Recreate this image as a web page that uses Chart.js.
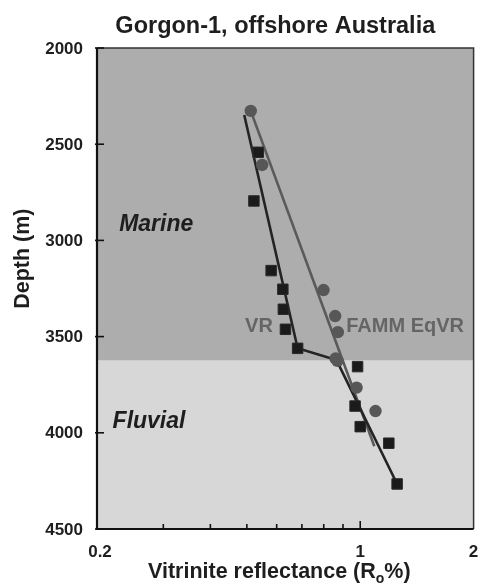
<!DOCTYPE html>
<html>
<head>
<meta charset="utf-8">
<title>Gorgon-1</title>
<script src="https://cdn.jsdelivr.net/npm/chart.js@4"></script>
<style>
  html, body { margin: 0; padding: 0; background: #fff; }
  #wrap { width: 482px; height: 583px; }
</style>
</head>
<body>
<div id="wrap"><canvas id="grafico" width="482" height="583"></canvas></div>
<script>
// VR measurements (squares)
const vrRo    = [0.536, 0.522, 0.580, 0.623, 0.625, 0.633, 0.682, 0.984, 0.969, 1.000, 1.191, 1.253];
const vrDepth = [2542, 2795, 3157, 3254, 3358, 3462, 3561, 3656, 3861, 3968, 4054, 4266];

// FAMM equivalent VR (circles)
const fammRo    = [0.512, 0.549, 0.799, 0.858, 0.872, 0.860, 0.870, 0.978, 1.098];
const fammDepth = [2327, 2608, 3258, 3393, 3477, 3614, 3626, 3765, 3887];

// trend lines
const vrTrendRo      = [0.492, 0.682, 0.865, 1.253];
const vrTrendDepth   = [2348, 3561, 3622, 4266];
const fammTrendRo    = [0.512, 1.09];
const fammTrendDepth = [2327, 4070];

// axes
const depthTicks = [2000, 2500, 3000, 3500, 4000, 4500];
const roLabels   = [0.2, 1, 2];
const roMinor    = [0.3, 0.4, 0.5, 0.6, 0.7, 0.8, 0.9];
const marineBase = 3625;   // top of the fluvial section

const FONT = '"Liberation Sans", Arial, Helvetica, sans-serif';

const pares = (xs, ys) => xs.map((x, i) => ({ x: x, y: ys[i] }));

const fondo = {
    id: 'fondo',
    beforeDatasetsDraw(chart) {
        const { ctx, chartArea: a, scales: { y } } = chart;
        const yb = y.getPixelForValue(marineBase);
        ctx.save();
        ctx.fillStyle = '#adadad';
        ctx.fillRect(a.left, a.top, a.right - a.left, yb - a.top);
        ctx.fillStyle = '#d7d7d7';
        ctx.fillRect(a.left, yb, a.right - a.left, a.bottom - yb);
        ctx.restore();
    }
};

const ejes = {
    id: 'ejes',
    afterDatasetsDraw(chart) {
        const { ctx, chartArea: a, scales: { x, y } } = chart;
        ctx.save();

        // frame
        ctx.strokeStyle = '#333';
        ctx.lineWidth = 1.5;
        ctx.beginPath();
        ctx.moveTo(a.left, a.top);
        ctx.lineTo(a.right, a.top);
        ctx.lineTo(a.right, a.bottom);
        ctx.stroke();
        ctx.strokeStyle = '#111';
        ctx.lineWidth = 2.2;
        ctx.beginPath();
        ctx.moveTo(a.left, a.top);
        ctx.lineTo(a.left, a.bottom);
        ctx.lineTo(a.right, a.bottom);
        ctx.stroke();

        // ticks point inward
        ctx.lineWidth = 1.6;
        depthTicks.forEach(d => {
            const py = y.getPixelForValue(d);
            ctx.beginPath();
            ctx.moveTo(a.left - 2, py);
            ctx.lineTo(a.left + 7, py);
            ctx.stroke();
        });
        roMinor.forEach(r => {
            const px = x.getPixelForValue(r);
            ctx.beginPath();
            ctx.moveTo(px, a.bottom);
            ctx.lineTo(px, a.bottom - 5);
            ctx.stroke();
        });
        const p1 = x.getPixelForValue(1);
        ctx.beginPath();
        ctx.moveTo(p1, a.bottom);
        ctx.lineTo(p1, a.bottom - 8);
        ctx.stroke();

        // tick labels
        ctx.fillStyle = '#1e1e1e';
        ctx.font = 'bold 17px ' + FONT;
        ctx.textAlign = 'right';
        ctx.textBaseline = 'middle';
        depthTicks.forEach(d => ctx.fillText(String(d), a.left - 14, y.getPixelForValue(d) + 1));
        ctx.textAlign = 'center';
        ctx.textBaseline = 'alphabetic';
        roLabels.forEach(r => ctx.fillText(String(r), x.getPixelForValue(r) + (r === 0.2 ? 3 : 0), a.bottom + 28));

        // title
        ctx.font = 'bold 23.5px ' + FONT;
        ctx.fillText('Gorgon-1, offshore Australia', (a.left + a.right) / 2 - 10, 33);

        // x title with subscript
        const partes = [
            { t: 'Vitrinite reflectance (R', f: 'bold 21.5px ', dy: 0 },
            { t: 'o', f: 'bold 14px ', dy: 5 },
            { t: '%)', f: 'bold 21.5px ', dy: 0 }
        ];
        let ancho = 0;
        partes.forEach(p => { ctx.font = p.f + FONT; ancho += ctx.measureText(p.t).width; });
        let cx = (a.left + a.right) / 2 - 6 - ancho / 2;
        ctx.textAlign = 'left';
        partes.forEach(p => {
            ctx.font = p.f + FONT;
            ctx.fillText(p.t, cx, 578 + p.dy);
            cx += ctx.measureText(p.t).width;
        });

        // y title
        ctx.save();
        ctx.translate(29, y.getPixelForValue(3095));
        ctx.rotate(-Math.PI / 2);
        ctx.textAlign = 'center';
        ctx.font = 'bold 21.5px ' + FONT;
        ctx.fillText('Depth (m)', 0, 0);
        ctx.restore();

        // facies
        ctx.font = 'italic bold 23px ' + FONT;
        ctx.textAlign = 'left';
        ctx.fillText('Marine', x.getPixelForValue(0.229), y.getPixelForValue(2951));
        ctx.fillText('Fluvial', x.getPixelForValue(0.220), y.getPixelForValue(3975));

        // series labels
        ctx.fillStyle = '#656565';
        ctx.font = 'bold 20px ' + FONT;
        ctx.textAlign = 'right';
        ctx.fillText('VR', x.getPixelForValue(0.586), y.getPixelForValue(3476));
        ctx.textAlign = 'left';
        ctx.fillText('FAMM EqVR', x.getPixelForValue(0.918), y.getPixelForValue(3476));

        ctx.restore();
    }
};

const ctx = document.getElementById('grafico').getContext('2d');

const miGrafico = new Chart(ctx, {
    type: 'scatter',
    data: {
        datasets: [
            {
                label: 'VR',
                data: pares(vrRo, vrDepth),
                pointStyle: 'rect',
                pointRadius: 7.4,
                backgroundColor: '#1b1b1b',
                borderColor: '#2a2a2a',
                borderWidth: 1,
                order: 1
            },
            {
                label: 'FAMM EqVR',
                data: pares(fammRo, fammDepth),
                pointStyle: 'circle',
                pointRadius: 6.2,
                backgroundColor: '#575757',
                borderColor: '#575757',
                borderWidth: 0,
                order: 2
            },
            {
                label: 'VR trend',
                data: pares(vrTrendRo, vrTrendDepth),
                showLine: true,
                pointRadius: 0,
                borderColor: '#242424',
                borderWidth: 2.6,
                order: 3
            },
            {
                label: 'FAMM trend',
                data: pares(fammTrendRo, fammTrendDepth),
                showLine: true,
                pointRadius: 0,
                borderColor: '#5a5a5a',
                borderWidth: 2.6,
                order: 4
            }
        ]
    },
    options: {
        responsive: false,
        animation: false,
        layout: { padding: { left: 97, top: 48, right: 6, bottom: 54 } },
        plugins: {
            legend: { display: false },
            tooltip: { enabled: false }
        },
        scales: {
            x: { type: 'logarithmic', min: 0.2, max: 2, display: false },
            y: { type: 'linear', min: 2000, max: 4500, reverse: true, display: false }
        }
    },
    plugins: [fondo, ejes]
});
</script>
</body>
</html>
